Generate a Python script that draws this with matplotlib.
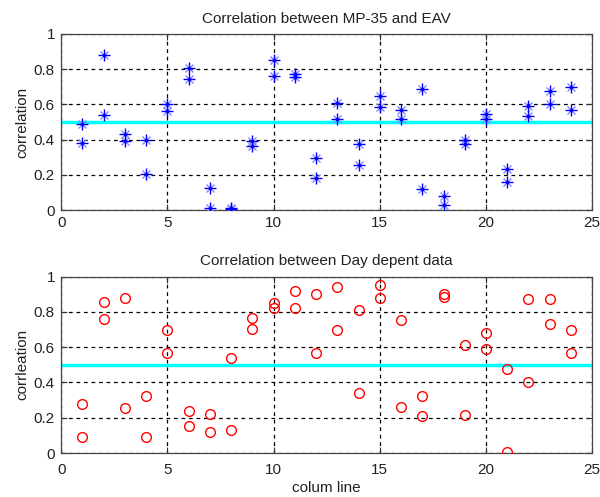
import matplotlib
matplotlib.use("Agg")
import matplotlib.pyplot as plt
import numpy as np

plt.rcParams['font.family'] = ['Liberation Sans', 'DejaVu Sans']

columns = np.arange(1, 25)
# Top chart: correlation between MP-35 and EAV (two values per column)
mp35_a = [0.49, 0.877, 0.434, 0.40, 0.602, 0.804, 0.125, 0.013, 0.394, 0.851, 0.770, 0.296,
          0.608, 0.374, 0.645, 0.566, 0.685, 0.083, 0.40, 0.543, 0.234, 0.589, 0.675, 0.698]
mp35_b = [0.38, 0.538, 0.392, 0.206, 0.564, 0.745, 0.013, 0.006, 0.366, 0.760, 0.757, 0.183,
          0.517, 0.257, 0.583, 0.519, 0.123, 0.030, 0.374, 0.519, 0.158, 0.534, 0.60, 0.566]
# Bottom chart: correlation between day dependent data
day_a = [0.276, 0.856, 0.876, 0.325, 0.696, 0.236, 0.221, 0.538, 0.765, 0.852, 0.917, 0.904,
         0.940, 0.809, 0.951, 0.752, 0.325, 0.899, 0.615, 0.681, 0.477, 0.872, 0.872, 0.698]
day_b = [0.092, 0.760, 0.257, 0.092, 0.567, 0.154, 0.118, 0.133, 0.704, 0.820, 0.820, 0.567,
         0.698, 0.341, 0.878, 0.259, 0.208, 0.884, 0.216, 0.587, 0.008, 0.402, 0.732, 0.567]
threshold = 0.5

titles = ["Correlation between MP-35 and EAV", "Correlation between Day depent data"]
ylabels = ["correlation", "corrleation"]
xlabel = "colum line"
xticks = [0, 5, 10, 15, 20, 25]
yticks = [0, 0.2, 0.4, 0.6, 0.8, 1]

fig = plt.figure(figsize=(6.0, 4.97), dpi=100)
ax1 = fig.add_axes([0.102, 0.577, 0.885, 0.355])
ax2 = fig.add_axes([0.102, 0.0885, 0.885, 0.355])

def style(ax, title, ylabel, xpad):
    ax.set_xlim(0, 25)
    ax.set_ylim(0, 1)
    ax.set_xticks(xticks)
    ax.set_yticks(yticks)
    ax.set_yticklabels(["0", "0.2", "0.4", "0.6", "0.8", "1"])
    ax.tick_params(direction='in', length=4, width=0.8, labelsize=11, top=True, right=True,
                   pad=4.5, colors='#333333', labelcolor='#222222')
    ax.tick_params(axis='x', pad=xpad)
    ax.grid(True, color='black', linestyle=(0, (3, 3)), linewidth=0.9)
    for s in ax.spines.values():
        s.set_linewidth(0.9)
        s.set_color('#444444')
    ax.set_title(title, fontsize=11, pad=8, color='#222222')
    ax.set_ylabel(ylabel, fontsize=11, labelpad=3, color='#222222')
    ax.set_axisbelow(True)

def stars(ax, vals):
    ax.plot(columns, vals, linestyle='none', marker='x', markersize=5.5,
            markeredgecolor='#8888ff', markeredgewidth=1.0, zorder=3)
    ax.plot(columns, vals, linestyle='none', marker='+', markersize=8.5,
            markeredgecolor='blue', markeredgewidth=1.0, zorder=4)
    ax.plot(columns, vals, linestyle='none', marker='o', markersize=2.6,
            color='blue', markeredgewidth=0, zorder=5)

ax1.axhline(threshold, color='#00FFFF', linewidth=2.5, zorder=2)
stars(ax1, mp35_a)
stars(ax1, mp35_b)
style(ax1, titles[0], ylabels[0], 4.5)

ax2.axhline(threshold, color='#00FFFF', linewidth=2.5, zorder=2)
ax2.plot(columns, day_a, linestyle='none', marker='o', markersize=7,
         markerfacecolor='none', markeredgecolor='red', markeredgewidth=1.0, zorder=3)
ax2.plot(columns, day_b, linestyle='none', marker='o', markersize=7,
         markerfacecolor='none', markeredgecolor='red', markeredgewidth=1.0, zorder=3)
style(ax2, titles[1], ylabels[1], 7)
ax2.set_xlabel(xlabel, fontsize=11, labelpad=3, color='#222222')

fig.savefig("out.png", dpi=100, facecolor='white')
